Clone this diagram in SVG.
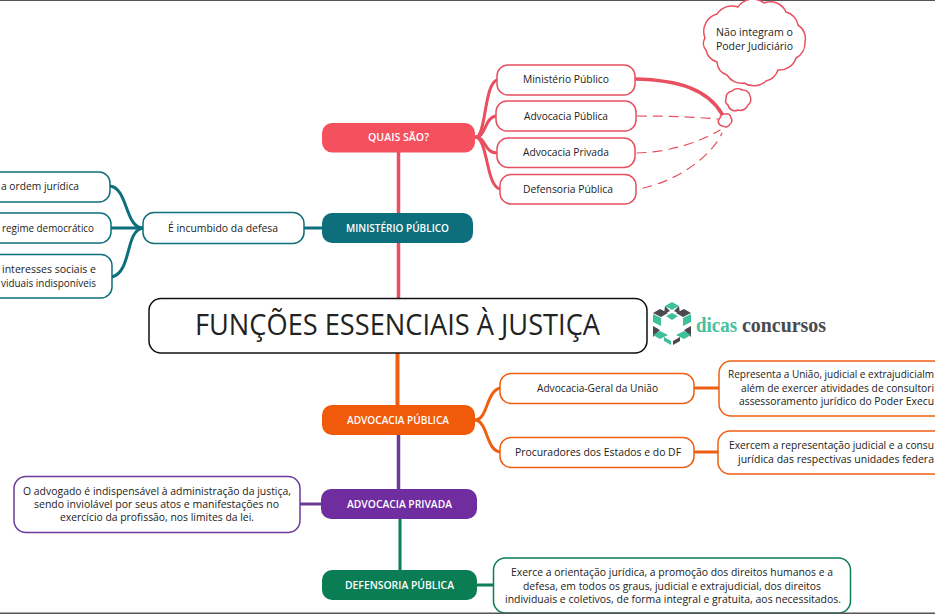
<svg xmlns="http://www.w3.org/2000/svg" width="935" height="614" viewBox="0 0 935 614">
<style>
text{font-family:"Open Sans","Liberation Sans",sans-serif;font-size:11px;fill:#222;text-anchor:middle}
.s{text-anchor:start}
.e{text-anchor:end}
.h{font-weight:600;fill:#fff;font-size:11.5px}
.c{fill:none;stroke-linecap:round}
.n{fill:#fff;stroke-width:1.5}
.red{stroke:#e8505f}.teal{stroke:#0e6f7c}.org{stroke:#ee5f13}.pur{stroke:#6b3a98}.grn{stroke:#0d7c58}
.dash{stroke-width:1.2;stroke-dasharray:9 7}
.lg{fill:#3cc09a}.ld{fill:#4a4a4e}
</style>
<rect width="935" height="614" fill="#fff"/>
<rect x="0" y="0" width="935" height="1" fill="#555"/>
<g id="connectors">
<path class="c red" stroke-width="3.500" d="M398.500 152V298"/>
<path class="c org" stroke-width="4" d="M397.500 353V405"/>
<path class="c pur" stroke-width="3.500" d="M398.500 435V489"/>
<path class="c grn" stroke-width="3" d="M400 519V570"/>
<g class="c red" stroke-width="3">
<path d="M476 137C486 137 484 84 497 80"/>
<path d="M476 137C486 137 484 118 496 116"/>
<path d="M476 137C486 137 484 153 497 153"/>
<path d="M476 137C488 140 486 186 500 189"/>
<path stroke-width="3.500" d="M635 79C680 80 708 90 722 114"/>
</g>
<g class="c red dash">
<path d="M637 116C670 116 695 117 718 119"/>
<path d="M637 153C670 152 700 142 720 130"/>
<path d="M643 188C680 180 712 155 722 133"/>
</g>
<g class="c teal" stroke-width="3">
<path d="M143 228C125 228 128 188 110 186"/>
<path d="M143 228H111"/>
<path d="M143 228C125 230 132 272 112 277"/>
<path d="M304 228H322"/>
</g>
<g class="c org" stroke-width="3">
<path d="M476 420C488 418 486 392 500 388"/>
<path d="M476 420C488 423 486 450 500 452"/>
<path d="M694 388H719"/>
<path d="M694 452H718"/>
</g>
<path class="c pur" stroke-width="3" d="M300 504H321"/>
<path class="c grn" stroke-width="3" d="M477 585H493"/>
</g>
<g id="central">
<rect x="149" y="298.500" width="498" height="54.500" rx="12" fill="#fff" stroke="#111" stroke-width="1.500"/>
<text x="397.500" y="335" style="font-size:30px" fill="#111" textLength="405" lengthAdjust="spacingAndGlyphs">FUNÇÕES ESSENCIAIS À JUSTIÇA</text>
</g>
<g id="logo">
<polygon class="lg" points="672,302 679,306 672,310 665,306"/>
<polygon class="ld" points="679,306 680,314 674,311"/>
<polygon class="ld" points="665,306 664,314 670,311"/>
<polygon class="ld" points="660,309 668,313 661,317 653,313"/>
<polygon class="ld" points="684,309 691,313 683,317 676,313"/>
<polygon class="lg" points="653,314 661,318 661,326 653,322"/>
<polygon class="lg" points="691,314 691,322 683,326 683,318"/>
<polygon class="lg" points="672,313 678,316 672,320 666,316"/>
<polygon class="ld" points="653,326 660,330 653,337"/>
<polygon class="ld" points="691,326 684,330 691,337"/>
<polygon class="lg" points="660,331 668,335 660,339 653,335"/>
<polygon class="lg" points="684,331 691,335 684,339 676,335"/>
<polygon class="lg" points="664,337 671,341 671,345 664,341"/>
<polygon class="ld" points="680,337 680,341 673,345 673,341"/>
</g>
<g id="logo-text">
<text class="s" x="696" y="332" style="font-family:'Liberation Serif',serif;font-size:20px;font-weight:700;fill:#45c19d" textLength="41" lengthAdjust="spacingAndGlyphs">dicas</text>
<text class="s" x="742" y="332" style="font-family:'Liberation Serif',serif;font-size:20px;font-weight:700;fill:#4a4a4e" textLength="84" lengthAdjust="spacingAndGlyphs">concursos</text>
</g>
<g id="quais-sao">
<rect x="322" y="123" width="153" height="29.500" rx="10" fill="#f4505e"/>
<text class="h" x="398.500" y="141" textLength="61" lengthAdjust="spacingAndGlyphs">QUAIS SÃO?</text>
</g>
<g id="ministerio-publico">
<rect x="322" y="213" width="151" height="30" rx="10" fill="#0e6f7c"/>
<text class="h" x="397.500" y="232" textLength="103" lengthAdjust="spacingAndGlyphs">MINISTÉRIO PÚBLICO</text>
</g>
<g id="advocacia-publica">
<rect x="322" y="405" width="153" height="30" rx="10" fill="#f15a0a"/>
<text class="h" x="398" y="424" textLength="102" lengthAdjust="spacingAndGlyphs">ADVOCACIA PÚBLICA</text>
</g>
<g id="advocacia-privada">
<rect x="321" y="489" width="156" height="30" rx="10" fill="#6f2da0"/>
<text class="h" x="399.500" y="508" textLength="105" lengthAdjust="spacingAndGlyphs">ADVOCACIA PRIVADA</text>
</g>
<g id="defensoria-publica">
<rect x="322" y="570" width="155" height="30" rx="10" fill="#0b7d55"/>
<text class="h" x="399.500" y="589" textLength="109" lengthAdjust="spacingAndGlyphs">DEFENSORIA PÚBLICA</text>
</g>
<g id="n-mp">
<rect class="n red" x="497" y="65" width="138" height="30" rx="11"/>
<text x="566" y="83" textLength="86" lengthAdjust="spacingAndGlyphs">Ministério Público</text>
</g>
<g id="n-ap">
<rect class="n red" x="496" y="101" width="140" height="30" rx="11"/>
<text x="566" y="120" textLength="84" lengthAdjust="spacingAndGlyphs">Advocacia Pública</text>
</g>
<g id="n-apr">
<rect class="n red" x="497" y="138" width="138" height="29.500" rx="11"/>
<text x="566" y="156" textLength="86" lengthAdjust="spacingAndGlyphs">Advocacia Privada</text>
</g>
<g id="n-dp">
<rect class="n red" x="500" y="174.500" width="136" height="29.500" rx="11"/>
<text x="568" y="193" textLength="90" lengthAdjust="spacingAndGlyphs">Defensoria Pública</text>
</g>
<g id="cloud-small">
<path class="n red" stroke-width="1.200" d="M720 118A4.500 4.500 0 0 1 725 114A4.500 4.500 0 0 1 731 118A4.500 4.500 0 0 1 730 124A4.500 4.500 0 0 1 723 126A4.500 4.500 0 0 1 720 118Z"/>
<path class="n red" stroke-width="1.200" d="M726 99A7 7 0 0 1 732 91A8 8 0 0 1 742 90A7 7 0 0 1 750 96A7 7 0 0 1 748 105A8 8 0 0 1 738 110A7 7 0 0 1 728 105A5 5 0 0 1 726 99Z"/>
</g>
<g id="cloud">
<path class="n red" d="M705 38A18 18 0 0 1 717 14A18 18 0 0 1 738 7A18 18 0 0 1 764 3A17 17 0 0 1 786 12A16 16 0 0 1 798 25A16 16 0 0 1 805 42A17 17 0 0 1 796 58A17 17 0 0 1 778 70A17 17 0 0 1 766 81A18 18 0 0 1 744 83A17 17 0 0 1 727 75A15 15 0 0 1 717 62A16 16 0 0 1 706 50A10 10 0 0 1 705 38Z"/>
<text x="754.500" y="36" textLength="77" lengthAdjust="spacingAndGlyphs">Não integram o</text>
<text x="754.500" y="50" textLength="77" lengthAdjust="spacingAndGlyphs">Poder Judiciário</text>
</g>
<g id="n-incumbido">
<rect class="n teal" x="143" y="212.500" width="161" height="31" rx="11"/>
<text x="223" y="232" textLength="110" lengthAdjust="spacingAndGlyphs">É incumbido da defesa</text>
</g>
<g id="n-ordem">
<rect class="n teal" x="-40" y="172" width="150" height="30" rx="11"/>
<text class="e" x="79" y="190" textLength="78" lengthAdjust="spacingAndGlyphs">a ordem jurídica</text>
</g>
<g id="n-regime">
<rect class="n teal" x="-40" y="213" width="151" height="30" rx="11"/>
<text class="e" x="94" y="232" textLength="92" lengthAdjust="spacingAndGlyphs">regime democrático</text>
</g>
<g id="n-interesses">
<rect class="n teal" x="-40" y="254.500" width="152" height="43.500" rx="11"/>
<text class="e" x="96" y="273" textLength="94" lengthAdjust="spacingAndGlyphs">interesses sociais e</text>
<text class="e" x="96" y="287" textLength="95" lengthAdjust="spacingAndGlyphs">viduais indisponíveis</text>
</g>
<g id="n-agu">
<rect class="n org" x="500" y="373.500" width="194" height="30" rx="11"/>
<text x="597.500" y="392" textLength="121" lengthAdjust="spacingAndGlyphs">Advocacia-Geral da União</text>
</g>
<g id="n-proc">
<rect class="n org" x="500" y="437.500" width="194" height="30" rx="11"/>
<text x="598" y="456" textLength="166" lengthAdjust="spacingAndGlyphs">Procuradores dos Estados e do DF</text>
</g>
<g id="n-rep">
<rect class="n org" x="719" y="361" width="260" height="55" rx="12"/>
<text class="s" x="728" y="378" textLength="206" lengthAdjust="spacingAndGlyphs">Representa a União, judicial e extrajudicialm</text>
<text class="s" x="741" y="392" textLength="193" lengthAdjust="spacingAndGlyphs">além de exercer atividades de consultori</text>
<text class="s" x="739" y="405" textLength="195" lengthAdjust="spacingAndGlyphs">assessoramento jurídico do Poder Execu</text>
</g>
<g id="n-ex">
<rect class="n org" x="718" y="431" width="260" height="43" rx="12"/>
<text class="s" x="729" y="449" textLength="205" lengthAdjust="spacingAndGlyphs">Exercem a representação judicial e a consu</text>
<text class="s" x="738" y="463" textLength="196" lengthAdjust="spacingAndGlyphs">jurídica das respectivas unidades federa</text>
</g>
<g id="n-adv">
<rect class="n pur" x="14" y="476.500" width="286" height="56" rx="12"/>
<text x="157" y="495" textLength="268" lengthAdjust="spacingAndGlyphs">O advogado é indispensável à administração da justiça,</text>
<text x="156.500" y="508" textLength="245" lengthAdjust="spacingAndGlyphs">sendo inviolável por seus atos e manifestações no</text>
<text x="157" y="521" textLength="194" lengthAdjust="spacingAndGlyphs">exercício da profissão, nos limites da lei.</text>
</g>
<g id="n-def">
<rect class="n grn" x="493.500" y="558" width="357" height="55" rx="12"/>
<text x="672" y="576" textLength="322" lengthAdjust="spacingAndGlyphs">Exerce a orientação jurídica, a promoção dos direitos humanos e a</text>
<text x="672" y="590" textLength="298" lengthAdjust="spacingAndGlyphs">defesa, em todos os graus, judicial e extrajudicial, dos direitos</text>
<text x="673" y="603" textLength="336" lengthAdjust="spacingAndGlyphs">individuais e coletivos, de forma integral e gratuita, aos necessitados.</text>
</g>
<rect x="0" y="612.500" width="935" height="1.500" fill="#555"/>
</svg>
